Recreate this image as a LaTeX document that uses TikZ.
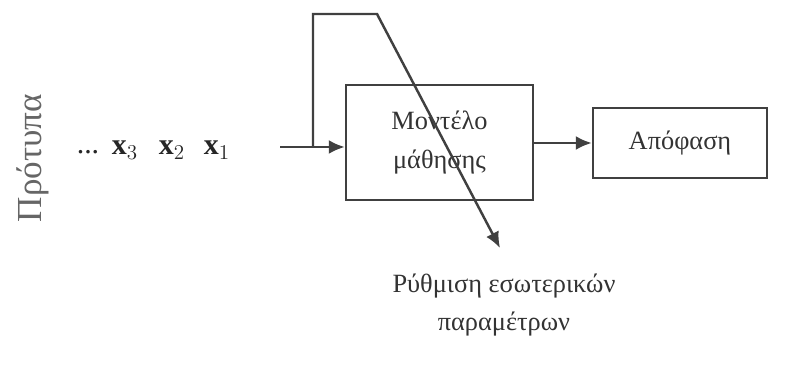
\documentclass[tikz,border=0pt]{standalone}
\usepackage{fontspec}
\setmainfont{Liberation Serif}
\usetikzlibrary{shapes,arrows.meta,positioning}

\begin{document}
\begin{tikzpicture}[
    block/.style={rectangle, draw=black!75, line width=1.4pt, align=center, font=\fontsize{15}{22.5}\selectfont, text=black!80},
    arrow/.style={-{Latex[length=3.2mm,width=2.8mm]}, line width=1.4pt, draw=black!75},
    label/.style={text=black!80, font=\fontsize{15}{21.5}\selectfont, align=center},
    sample/.style={text=black!85, font=\fontsize{17}{20}\selectfont}
]
\useasboundingbox (0,0) rectangle (15.82,7.48);

% Blocchi
\node[block, minimum width=3.74cm, minimum height=2.3cm] (model) at (8.79, 4.63) {Μοντέλο\\μάθησης};
\node[block, minimum width=3.48cm, minimum height=1.4cm] (decision) at (13.6, 4.62) {Απόφαση};

% Ingressi
\node[label, rotate=90, text=black!60, font=\fontsize{20}{24}\selectfont] (samples) at (0.66, 4.32) {Πρότυπα};
\node[sample] (dots) at (1.76, 4.44) {...};
\node[sample] (x3) at (2.5, 4.48) {$\mathbf{x}_3$};
\node[sample] (x2) at (3.44, 4.48) {$\mathbf{x}_2$};
\node[sample] (x1) at (4.34, 4.48) {$\mathbf{x}_1$};

% Frecce principali
\coordinate (in) at (5.6, 4.54);
\coordinate (split) at (6.26, 4.54);
\draw[arrow] (in) -- (in -| model.west);
\draw[arrow] (model.east |- decision) -- (decision.west);

% Retroazione
\coordinate (up) at (6.26, 7.2);
\coordinate (turn) at (7.54, 7.2);
\coordinate (tip) at (10.0, 2.52);
\draw[arrow] (split) -- (up) -- (turn) -- (tip);

\node[label] (tuning) at (10.08, 1.38) {Ρύθμιση εσωτερικών\\παραμέτρων};

\end{tikzpicture}
\end{document}
